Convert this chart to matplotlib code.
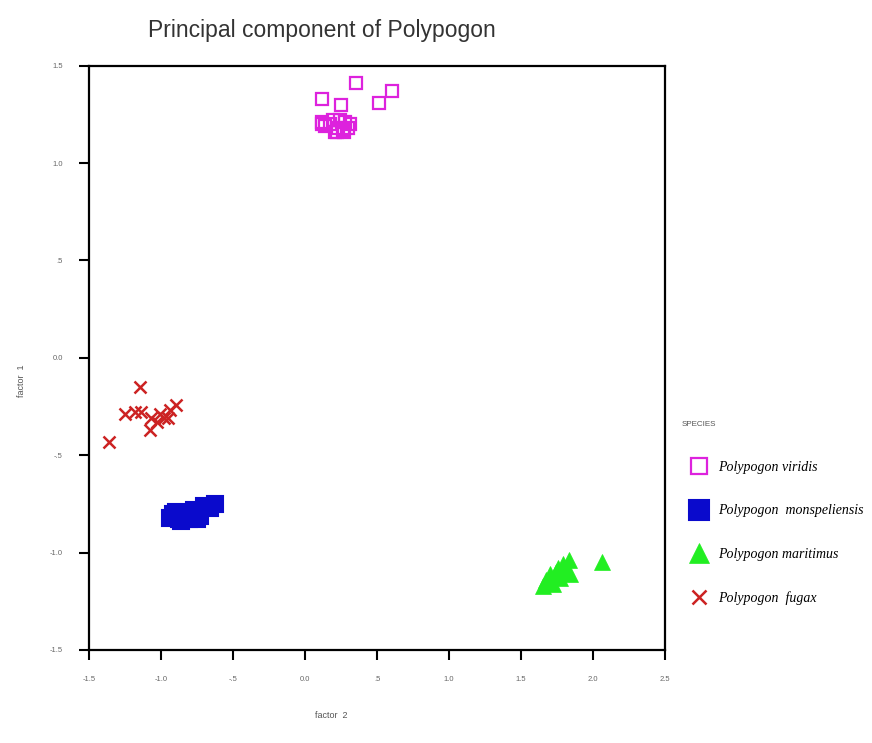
import matplotlib
matplotlib.use("Agg")
import matplotlib.pyplot as plt

# ---- data (factor 2 = x, factor 1 = y) ----
viridis_x = [0.12, 0.35, 0.51, 0.60, 0.25, 0.12, 0.17, 0.23, 0.28, 0.31, 0.21, 0.26, 0.14, 0.30, 0.19, 0.24, 0.22, 0.27, 0.12]
viridis_y = [1.33, 1.41, 1.31, 1.37, 1.30, 1.21, 1.20, 1.18, 1.21, 1.20, 1.16, 1.17, 1.19, 1.18, 1.22, 1.22, 1.16, 1.16, 1.20]

monsp_x = [-0.94, -0.88, -0.84, -0.80, -0.77, -0.73, -0.70, -0.66, -0.63, -0.81, -0.90, -0.75, -0.92, -0.86]
monsp_y = [-0.82, -0.83, -0.81, -0.80, -0.78, -0.81, -0.76, -0.77, -0.75, -0.83, -0.79, -0.83, -0.80, -0.84]

marit_x = [1.67, 1.70, 1.74, 1.76, 1.79, 1.81, 1.83, 1.77, 1.84, 1.72, 1.65, 2.06]
marit_y = [-1.14, -1.11, -1.10, -1.08, -1.06, -1.09, -1.04, -1.13, -1.11, -1.16, -1.17, -1.05]

fugax_x = [-1.15, -1.36, -1.25, -1.18, -1.14, -1.08, -1.07, -1.01, -0.98, -0.95, -0.90, -1.03, -0.94]
fugax_y = [-0.15, -0.43, -0.29, -0.28, -0.28, -0.37, -0.31, -0.29, -0.31, -0.31, -0.24, -0.33, -0.27]

labels = ["Polypogon viridis", "Polypogon  monspeliensis", "Polypogon maritimus", "Polypogon  fugax"]
xticks = [-1.5, -1.0, -0.5, 0.0, 0.5, 1.0, 1.5, 2.0, 2.5]
xticklabels = ["-1.5", "-1.0", "-.5", "0.0", ".5", "1.0", "1.5", "2.0", "2.5"]
yticks = [-1.5, -1.0, -0.5, 0.0, 0.5, 1.0, 1.5]
yticklabels = ["-1.5", "-1.0", "-.5", "0.0", ".5", "1.0", "1.5"]

plt.rcParams['font.family'] = ['Liberation Sans', 'DejaVu Sans']

fig = plt.figure(figsize=(8.72, 7.43), dpi=100)
ax = fig.add_axes([0.1024, 0.1252, 0.6602, 0.7864])

c_mag = "#DD22DD"
c_blue = "#0A0ACC"
c_green = "#22EE22"
c_red = "#CC2222"

ax.plot(viridis_x, viridis_y, ls="none", marker="s", ms=9, mfc="none", mec=c_mag, mew=1.6, label=labels[0])
ax.plot(monsp_x, monsp_y, ls="none", marker="s", ms=11, mfc=c_blue, mec=c_blue, mew=1.5, label=labels[1])
ax.plot(marit_x, marit_y, ls="none", marker="^", ms=11, mfc=c_green, mec=c_green, mew=0.5, label=labels[2])
ax.plot(fugax_x, fugax_y, ls="none", marker="x", ms=8, mec=c_red, mew=1.8, label=labels[3])

ax.set_xlim(-1.5, 2.5)
ax.set_ylim(-1.5, 1.5)
ax.set_xticks(xticks)
ax.set_xticklabels(xticklabels)
ax.set_yticks(yticks)
ax.set_yticklabels(yticklabels)
ax.tick_params(direction="out", length=7, width=1.5, labelsize=5.5, labelcolor="#666666", pad=12)
for s in ax.spines.values():
    s.set_linewidth(1.6)

ax.set_xlabel("factor  2", fontsize=6.5, color="#555555")
ax.xaxis.set_label_coords(0.42, -0.105)
ax.set_ylabel("factor  1", fontsize=6.5, color="#555555")
ax.yaxis.set_label_coords(-0.11, 0.46)

fig.text(148 / 872, 1 - 30 / 743, "Principal component of Polypogon", fontsize=16.5, color="#333333",
         ha="left", va="center")

leg = ax.legend(loc="upper left", bbox_to_anchor=(669 / 872, 1 - 408 / 743), bbox_transform=fig.transFigure,
                frameon=False, title="SPECIES", labelspacing=2.2, handletextpad=0.15, handlelength=2.5,
                markerscale=1.25,
                prop={"family": "Liberation Serif", "style": "italic", "size": 10})
leg.get_title().set_fontsize(5.8)
leg.get_title().set_color("#555555")
leg._legend_box.align = "left"
leg._legend_box.sep = 24

fig.savefig("out.png", dpi=100)
